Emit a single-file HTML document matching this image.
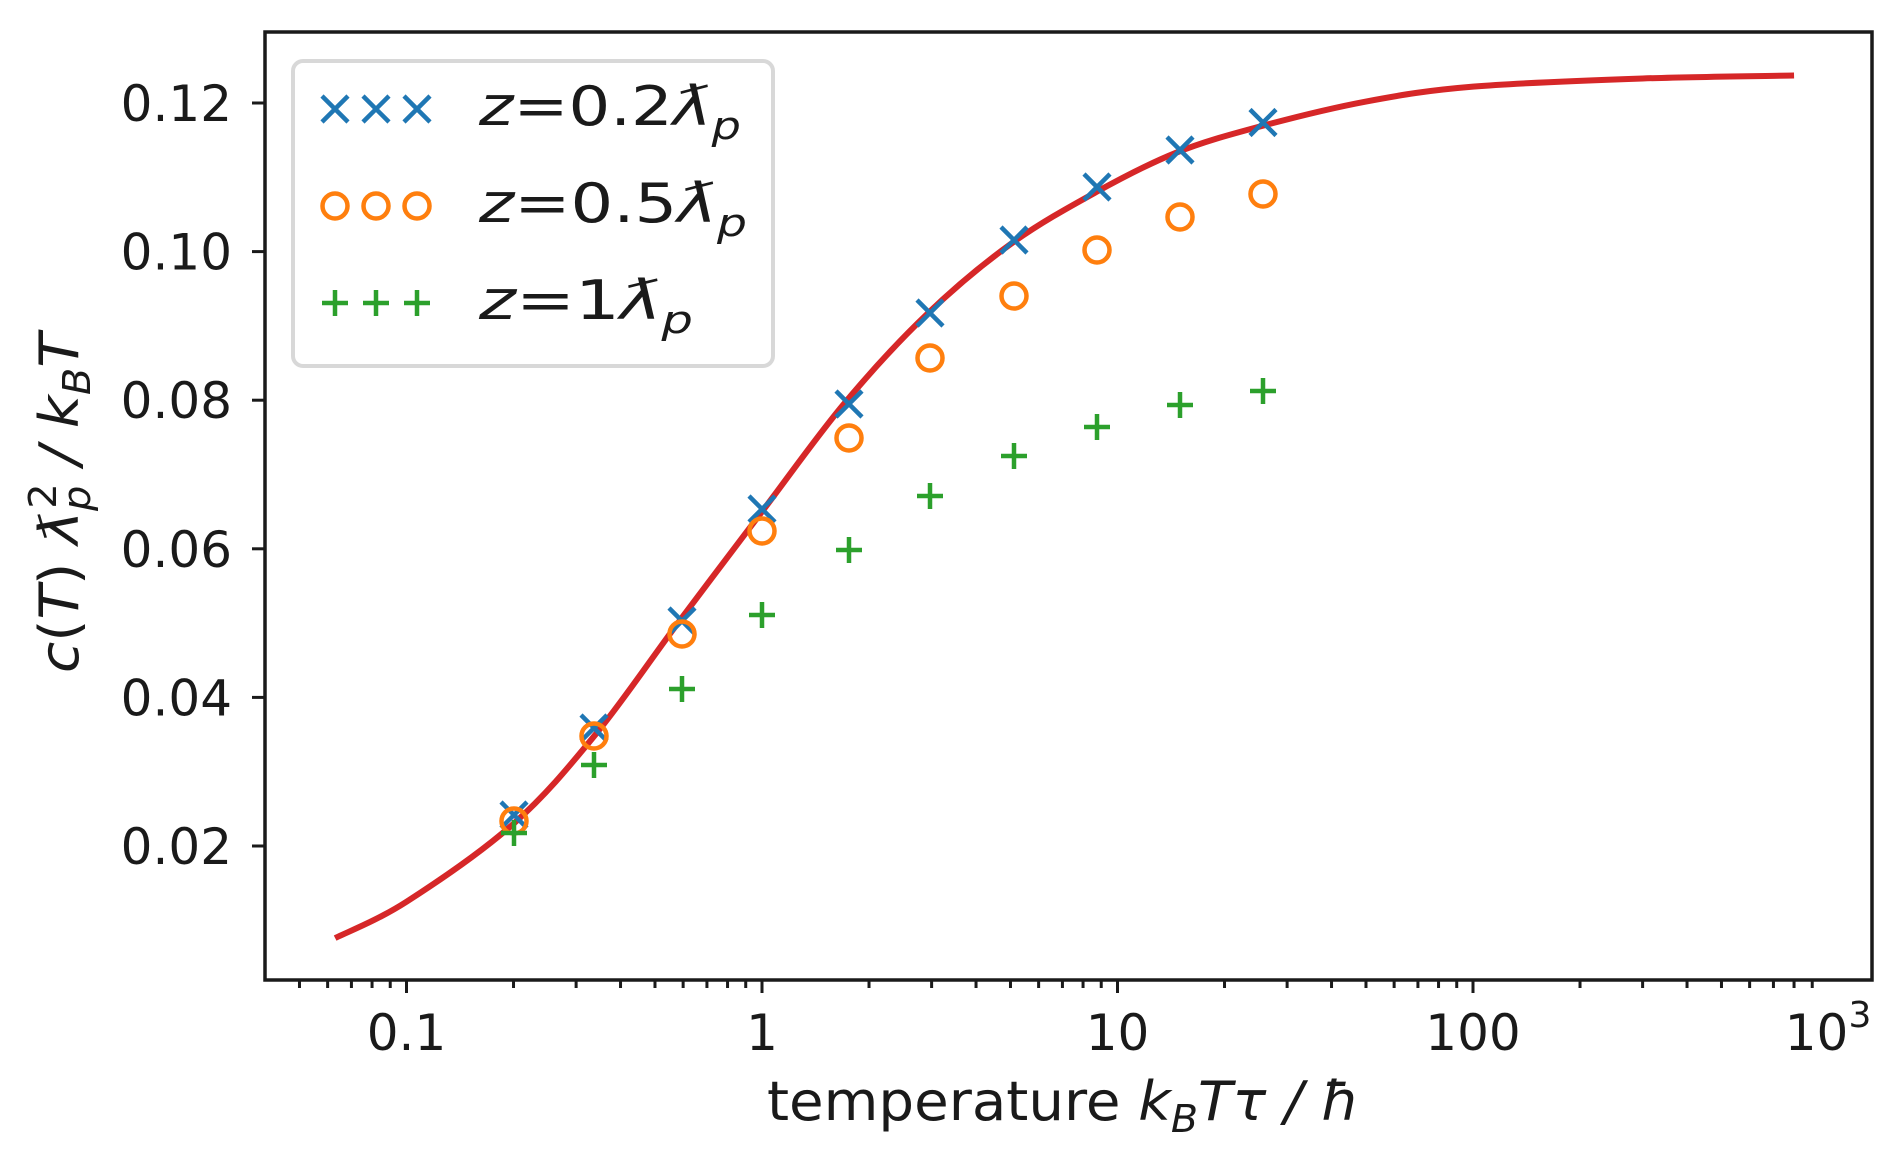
<!DOCTYPE html>
<html><head><meta charset="utf-8"><style>
html,body{margin:0;padding:0;background:#fff;}
svg{display:block;}
text{font-family:"DejaVu Sans","Liberation Sans",sans-serif;fill:#1a1a1a;}
</style></head><body>
<svg id="s" width="1902" height="1168" xmlns="http://www.w3.org/2000/svg">
<rect width="1902" height="1168" fill="#fff"/>
<g id="curve"></g>
<g id="marks"></g>
<rect x="265" y="32" width="1607" height="948" fill="none" stroke="#1a1a1a" stroke-width="3.5"/>
<g id="ticks" stroke="#1a1a1a" stroke-width="3"></g>
<g id="labels" font-size="50"></g>
<!-- legend -->
<rect x="293" y="61" width="480" height="305" rx="10" fill="#fff" fill-opacity="0.85" stroke="#d8d8d8" stroke-width="4"/>
<g id="leg"></g>
<text x="479" y="125" font-size="54" font-style="italic" textLength="262" lengthAdjust="spacingAndGlyphs">z<tspan font-style="normal">=0.2</tspan>ƛ<tspan font-size="38" dy="14">p</tspan></text>
<text x="479" y="222" font-size="54" font-style="italic" textLength="268" lengthAdjust="spacingAndGlyphs">z<tspan font-style="normal">=0.5</tspan>ƛ<tspan font-size="38" dy="14">p</tspan></text>
<text x="479" y="319" font-size="54" font-style="italic" textLength="214" lengthAdjust="spacingAndGlyphs">z<tspan font-style="normal">=1</tspan>ƛ<tspan font-size="38" dy="14">p</tspan></text>
<text x="767" y="1120" font-size="54" textLength="593" lengthAdjust="spacingAndGlyphs">temperature <tspan font-style="italic">k</tspan><tspan font-style="italic" font-size="38" dy="12">B</tspan><tspan font-style="italic" dy="-12">Tτ / ħ</tspan></text>
<text transform="translate(78,673) rotate(-90)" font-size="54" font-style="italic" textLength="340" lengthAdjust="spacingAndGlyphs">c<tspan font-style="normal">(</tspan>T<tspan font-style="normal">)</tspan> ƛ<tspan font-size="38" dy="12">p</tspan><tspan font-size="38" dx="-22" dy="-34" font-style="normal">2</tspan><tspan dy="22"> / k</tspan><tspan font-size="38" dy="12">B</tspan><tspan dy="-12">T</tspan></text>
</svg>
<script>
var NS="http://www.w3.org/2000/svg";
function X(t){return 762+355.5*Math.log10(t);}
function Y(v){return 103+(0.12-v)/0.02*148.6;}
function el(p,n,a,txt){var e=document.createElementNS(NS,n);for(var k in a)e.setAttribute(k,a[k]);if(txt!=null)e.textContent=txt;document.getElementById(p).appendChild(e);return e;}
var P=[[0.063,0.0076],[0.1,0.0125],[0.2,0.023],[0.34,0.035],[0.58,0.050],[1,0.065],[1.7,0.0795],[2.9,0.0915],[5,0.101],[8.7,0.108],[14.6,0.1133],[25,0.1168],[50,0.1202],[100,0.1222],[300,0.1233],[800,0.1237]];
var pts=P.map(function(p){return [X(p[0]),Y(p[1])];});
var d="M"+pts[0][0]+","+pts[0][1];
for(var i=0;i<pts.length-1;i++){var p0=pts[Math.max(0,i-1)],p1=pts[i],p2=pts[i+1],p3=pts[Math.min(pts.length-1,i+2)];
d+=" C"+(p1[0]+(p2[0]-p0[0])/6)+","+(p1[1]+(p2[1]-p0[1])/6)+" "+(p2[0]-(p3[0]-p1[0])/6)+","+(p2[1]-(p3[1]-p1[1])/6)+" "+p2[0]+","+p2[1];}
el("curve","path",{d:d,fill:"none",stroke:"#d62728","stroke-width":6});
var xs=[514,594,682,762,849,930,1014,1097,1180,1263];
var b=[815,728,621,509,404,313,240,187,150,122.5];
var o=[821,736,634,531,438,358,296,250,217,194];
var g=[833,765,689,615,550,496,456,427,405,391];
function cross(p,x,y){el(p,"path",{d:"M"+(x-13)+","+(y-13)+"L"+(x+13)+","+(y+13)+"M"+(x-13)+","+(y+13)+"L"+(x+13)+","+(y-13),stroke:"#1f77b4","stroke-width":4.5,fill:"none"});}
function circ(p,x,y){el(p,"circle",{cx:x,cy:y,r:12.5,fill:"none",stroke:"#ff7f0e","stroke-width":4.5});}
function plus(p,x,y){el(p,"path",{d:"M"+(x-13)+","+y+"L"+(x+13)+","+y+"M"+x+","+(y-13)+"L"+x+","+(y+13),stroke:"#2ca02c","stroke-width":4.5,fill:"none"});}
for(var i=0;i<10;i++){cross("marks",xs[i],b[i]);circ("marks",xs[i],o[i]);plus("marks",xs[i],g[i]);}
[335,376,417].forEach(function(x){cross("leg",x,109);circ("leg",x,206);plus("leg",x,303);});
[0.02,0.04,0.06,0.08,0.10,0.12].forEach(function(v){var y=Y(v);el("ticks","line",{x1:252,x2:265,y1:y,y2:y});el("labels","text",{x:232,y:y+18,"text-anchor":"end"},v.toFixed(2));});
for(var e=-2;e<3;e++)for(var m=1;m<10;m++){var t=m*Math.pow(10,e);var x=X(t);if(x<266||x>1871)continue;el("ticks","line",{x1:x,x2:x,y1:980,y2:m==1?993:988});}
var lab={"0.1":0.1,"1":1,"10":10,"100":100};
for(var k in lab)el("labels","text",{x:X(lab[k]),y:1050,"text-anchor":"middle"},k);
el("labels","text",{x:X(1000)-12,y:1050,"text-anchor":"middle"},"10");
el("labels","text",{x:X(1000)+20,y:1027,"font-size":36},"3");
</script>
</body></html>
